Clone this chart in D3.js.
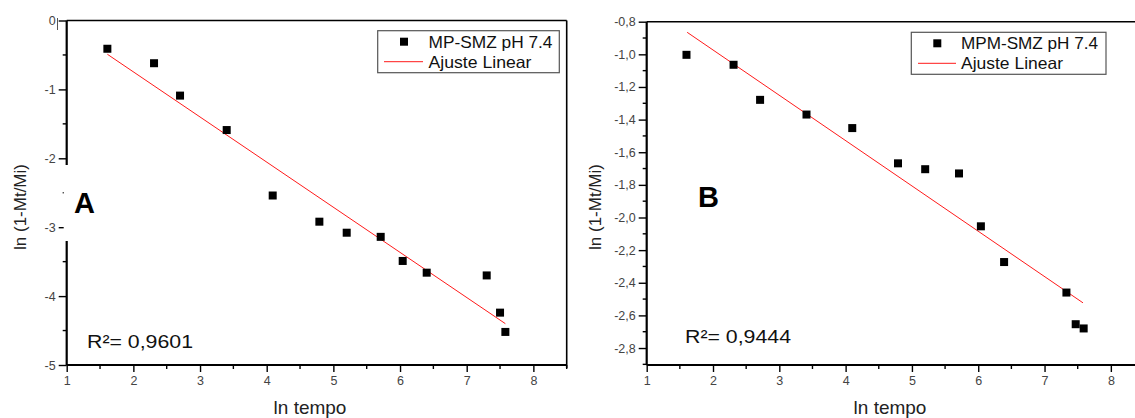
<!DOCTYPE html>
<html><head><meta charset="utf-8">
<script src="https://cdn.jsdelivr.net/npm/d3@7"></script>
<style>body{margin:0;background:#fff}svg{display:block}text{font-family:"Liberation Sans",Arial,sans-serif}</style>
</head><body>
<svg id="c" width="1135" height="418"></svg>
<script>
// Panel A data
const xA = [1.61, 2.31, 2.70, 3.40, 4.09, 4.79, 5.20, 5.71, 6.04, 6.40, 7.30, 7.50, 7.58];
const yA = [-0.41, -0.62, -1.09, -1.59, -2.54, -2.92, -3.08, -3.14, -3.49, -3.66, -3.70, -4.24, -4.52];
const fitXA = [1.61, 7.58];
const fitYA = [-0.49, -4.40];
// Panel B data
const xB = [1.60, 2.31, 2.71, 3.41, 4.10, 4.79, 5.20, 5.71, 6.04, 6.39, 7.33, 7.47, 7.59];
const yB = [-1.003, -1.064, -1.279, -1.369, -1.452, -1.668, -1.704, -1.730, -2.054, -2.273, -2.460, -2.654, -2.680];
const fitXB = [1.61, 7.58];
const fitYB = [-0.865, -2.523];
// tick values / labels
const xTicks = [1, 2, 3, 4, 5, 6, 7, 8];
const yTicksA = [0, -1, -2, -3, -4, -5];
const yTicksB = [-0.8, -1.0, -1.2, -1.4, -1.6, -1.8, -2.0, -2.2, -2.4, -2.6, -2.8];
const seriesNames = ["MP-SMZ pH 7.4", "MPM-SMZ pH 7.4"];
const fitName = "Ajuste Linear";
const r2Labels = ["R²= 0,9601", "R²= 0,9444"];
const panelLetters = ["A", "B"];
const xTitle = "ln tempo";
const yTitle = "ln (1-Mt/Mi)";

const svg = d3.select("#c");

function panel(cfg) {
  const g = svg.append("g");
  const x = d3.scaleLinear().domain([1, 8.5]).range([cfg.x0, cfg.x1]);
  const y = d3.scaleLinear().domain(cfg.yDom).range([365, cfg.yTop]);
  const clipId = "clip" + cfg.letter;
  svg.append("clipPath").attr("id", clipId).append("rect")
    .attr("x", cfg.x0).attr("y", cfg.yTop - 10).attr("width", cfg.x1 - cfg.x0).attr("height", 365 - cfg.yTop + 10);

  // frame top/right
  g.append("line").attr("x1", cfg.x0).attr("x2", cfg.x1).attr("y1", cfg.yTop).attr("y2", cfg.yTop)
    .attr("stroke", "#000").attr("stroke-width", 1.6);
  g.append("line").attr("x1", cfg.x1).attr("x2", cfg.x1).attr("y1", cfg.yTop).attr("y2", 368)
    .attr("stroke", "#000").attr("stroke-width", 1.6);

  // minor ticks
  const xMinor = d3.range(1.5, 8.6, 1);
  g.selectAll(null).data(xMinor).enter().append("line")
    .attr("x1", d => x(d)).attr("x2", d => x(d)).attr("y1", 365).attr("y2", 369)
    .attr("stroke", "#000").attr("stroke-width", 1.4);
  g.selectAll(null).data(cfg.yMinor).enter().append("line")
    .attr("x1", cfg.x0 - 4).attr("x2", cfg.x0).attr("y1", d => y(d)).attr("y2", d => y(d))
    .attr("stroke", "#000").attr("stroke-width", 1.4);

  // axes
  const xAxis = d3.axisBottom(x).tickValues(xTicks).tickSize(7).tickPadding(4).tickFormat(d3.format("d"));
  const xa = g.append("g").attr("transform", "translate(0,365)").call(xAxis);
  const yAxis = d3.axisLeft(y).tickValues(cfg.yTicks).tickSize(8).tickPadding(3)
    .tickFormat(d => cfg.fmt(d).replace("\u2212", "-"));
  const ya = g.append("g").attr("transform", `translate(${cfg.x0},0)`).call(yAxis);
  [xa, ya].forEach(a => {
    a.select(".domain").attr("stroke", "#000").attr("stroke-width", 2.2);
    a.selectAll(".tick line").attr("stroke", "#000").attr("stroke-width", 1.4);
    a.selectAll(".tick text").attr("fill", "#444").style("font-size", "12.5px")
      .style("font-family", "'Liberation Sans', Arial, sans-serif");
  });
  ya.select(".domain").attr("d", `M0,365V${cfg.yTop}`);
  xa.select(".domain").attr("d", `M${cfg.x0},0H${cfg.x1}`);

  // fit line
  const pts = cfg.fitX.map((d, i) => [d, cfg.fitY[i]]);
  g.append("path").datum(pts).attr("clip-path", `url(#${clipId})`)
    .attr("d", d3.line().x(d => x(d[0])).y(d => y(d[1])))
    .attr("stroke", "#ff1a1a").attr("stroke-width", 1).attr("fill", "none");

  // points
  const data = cfg.xs.map((d, i) => [d, cfg.ys[i]]);
  g.selectAll(null).data(data).enter().append("rect")
    .attr("x", d => x(d[0]) - 4).attr("y", d => y(d[1]) - 4)
    .attr("width", 8).attr("height", 8).attr("fill", "#000");

  // cover box (panel A letter area) and small mark beside "0"
  if (cfg.cover) {
    g.append("rect").attr("x", cfg.x0 - 3).attr("y", 165).attr("width", 30).attr("height", 76).attr("fill", "#fff");
    g.append("line").attr("x1", 57.5).attr("x2", 57.5).attr("y1", 18).attr("y2", 30)
      .attr("stroke", "#555").attr("stroke-width", 1);
  }

  // legend
  const L = cfg.legend;
  g.append("rect").attr("x", L.x).attr("y", L.y).attr("width", L.w).attr("height", 42)
    .attr("fill", "#fff").attr("stroke", "#555").attr("stroke-width", 1.2);
  g.append("rect").attr("x", L.mx - 4).attr("y", L.y + 7).attr("width", 8).attr("height", 8).attr("fill", "#000");
  g.append("line").attr("x1", L.lx0).attr("x2", L.lx1).attr("y1", L.y + 31).attr("y2", L.y + 31)
    .attr("stroke", "#ff1a1a").attr("stroke-width", 1);
  g.append("text").attr("x", L.tx).attr("y", L.y + 17).text(cfg.name)
    .attr("fill", "#111").style("font-size", "16.5px")
    .attr("textLength", L.t1).attr("lengthAdjust", "spacingAndGlyphs");
  g.append("text").attr("x", L.tx).attr("y", L.y + 37).text(fitName)
    .attr("fill", "#111").style("font-size", "16.5px")
    .attr("textLength", L.t2).attr("lengthAdjust", "spacingAndGlyphs");

  // titles
  g.append("text").attr("x", cfg.xTitleX).attr("y", 414).attr("text-anchor", "middle")
    .text(xTitle).attr("fill", "#222").style("font-size", "19px");
  g.append("text").attr("transform", `translate(${cfg.yTitleX},207) rotate(-90)`).attr("text-anchor", "middle")
    .text(yTitle).attr("fill", "#222").style("font-size", "17px");
  g.append("text").attr("x", cfg.letterX).attr("y", cfg.letterY).text(cfg.letter)
    .attr("fill", "#000").style("font-size", "29px").style("font-weight", "bold");
  g.append("text").attr("x", cfg.r2X).attr("y", cfg.r2Y).text(cfg.r2)
    .attr("fill", "#111").style("font-size", "19px")
    .attr("textLength", 106).attr("lengthAdjust", "spacingAndGlyphs");
}

panel({
  letter: panelLetters[0], x0: 66.7, x1: 566.7, yTop: 20.5, yDom: [-5, 0],
  yTicks: yTicksA, yMinor: d3.range(-4.5, 0, 1), fmt: d3.format("d"),
  xs: xA, ys: yA, fitX: fitXA, fitY: fitYA, name: seriesNames[0], r2: r2Labels[0], cover: true,
  legend: {x: 377.7, y: 30.7, w: 181.6, mx: 404, lx0: 384, lx1: 423, tx: 428.5, t1: 124, t2: 103},
  xTitleX: 310, yTitleX: 26, letterX: 74, letterY: 213, r2X: 87, r2Y: 348
});
panel({
  letter: panelLetters[1], x0: 646.7, x1: 1144, yTop: 21.7, yDom: [-2.904, -0.8],
  yTicks: yTicksB, yMinor: d3.range(-2.9, -0.8, 0.2), fmt: d => d3.format(".1f")(d).replace(".", ","),
  xs: xB, ys: yB, fitX: fitXB, fitY: fitYB, name: seriesNames[1], r2: r2Labels[1], cover: false,
  legend: {x: 911.3, y: 32.3, w: 194.7, mx: 937.3, lx0: 918, lx1: 956, tx: 961, t1: 137, t2: 102},
  xTitleX: 890, yTitleX: 601, letterX: 698, letterY: 207, r2X: 685, r2Y: 343
});
</script>
</body></html>
